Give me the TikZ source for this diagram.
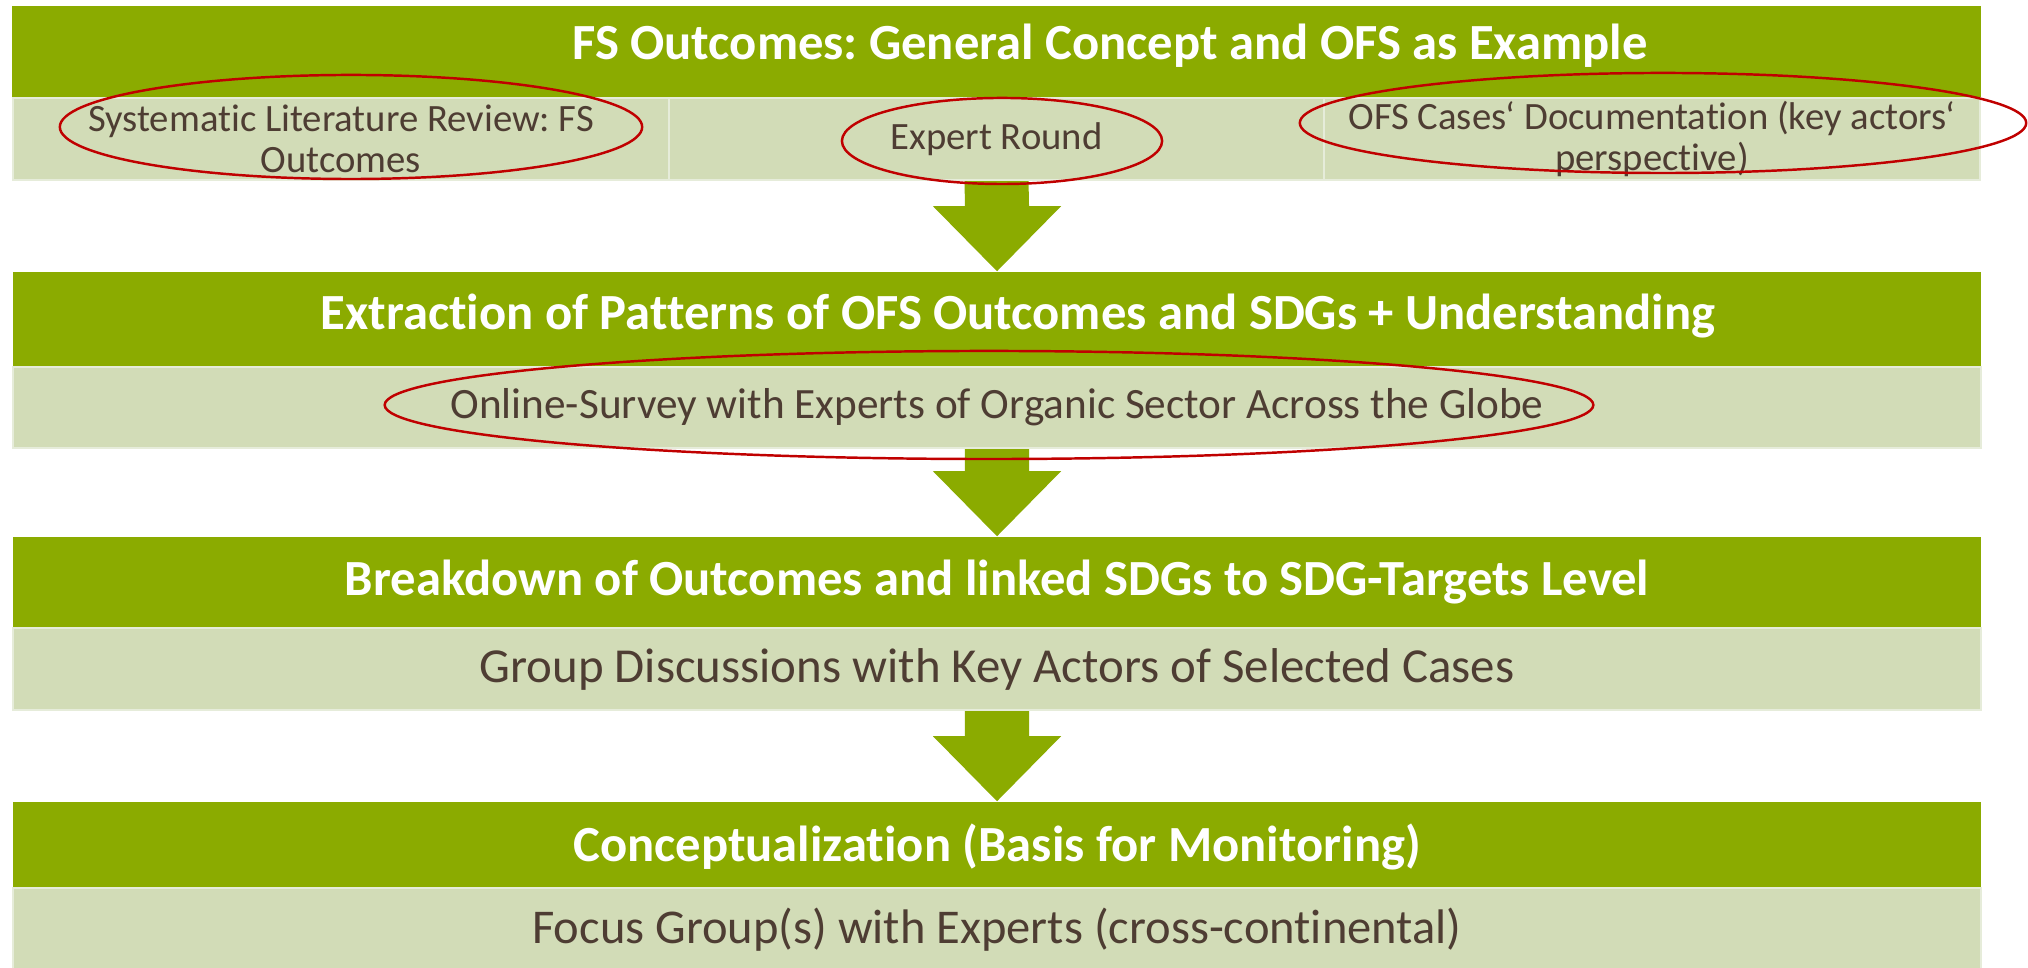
\documentclass[tikz,border=0pt]{standalone}
\usepackage{fontspec}
\setmainfont{Carlito}[Ligatures=NoCommon]
\usepackage{tikz}
\usetikzlibrary{shapes.geometric}
\frenchspacing
\definecolor{leaf}{HTML}{8BAB00}
\definecolor{sage}{HTML}{D2DCB7}
\definecolor{pale}{HTML}{E6ECDA}
\definecolor{bark}{HTML}{4E3D33}
\definecolor{ring}{HTML}{C00000}

\newcommand{\flowarrow}[2]{%
  \fill[leaf] ([xshift=-0.32cm]#1.south) -- ([xshift=-0.32cm,yshift=0.65cm]#2.north)
    -- ([xshift=-0.64cm,yshift=0.65cm]#2.north) -- (#2.north)
    -- ([xshift=0.64cm,yshift=0.65cm]#2.north) -- ([xshift=0.32cm,yshift=0.65cm]#2.north)
    -- ([xshift=0.32cm]#1.south) -- cycle;}

\begin{document}
\begin{tikzpicture}[x=0.01cm, y=0.01cm]

\tikzstyle{bar}=[rectangle, fill=leaf, draw=none, inner sep=0pt, minimum width=19.67cm]
\tikzstyle{band}=[rectangle, fill=sage, draw=pale, line width=0.6pt, inner sep=0pt, text=bark, align=center, minimum width=19.67cm]
\tikzstyle{cell}=[band, minimum width=6.55cm, minimum height=0.82cm, font=\fontsize{11pt}{11.6pt}\selectfont]
\tikzstyle{head}=[anchor=base, inner sep=0pt, text=white, font=\fontsize{14.4pt}{16pt}\selectfont\bfseries]
\tikzstyle{oval}=[ellipse, draw=ring, line width=0.7pt, inner sep=0pt]

\useasboundingbox (0,0) rectangle (2028,967);

\draw (996.5,915)  node[bar, minimum height=0.92cm] (t1) {}
      (997,647.5)  node[bar, minimum height=0.95cm] (t2) {}
      (997,384.5)  node[bar, minimum height=0.91cm] (t3) {}
      (997,121.5)  node[bar, minimum height=0.87cm] (t4) {};

\draw (341,828)    node[cell] (c1) {Systematic Literature Review: FS\\Outcomes}
      (996.5,828)  node[cell] (c2) {Expert Round}
      (1652,828)   node[cell] (c3) {OFS Cases‘ Documentation (key actors‘\\perspective)};

\draw (997,559.5)  node[band, minimum height=0.81cm, font=\fontsize{12.3pt}{14pt}\selectfont] (s2) {Online-Survey with Experts of Organic Sector Across the Globe}
      (997,298)    node[band, minimum height=0.82cm, font=\fontsize{13.9pt}{16pt}\selectfont] (s3) {Group Discussions with Key Actors of Selected Cases}
      (997,37)     node[band, minimum height=0.84cm, font=\fontsize{13.8pt}{15pt}\selectfont] (s4) {Focus Group(s) with Experts (cross-continental)};

\draw (1110,907)   node[head] (h1) {FS Outcomes: General Concept and OFS as Example}
      (1018,637)   node[head] (h2) {Extraction of Patterns of OFS Outcomes and SDGs + Understanding}
      (997,371)    node[head] (h3) {Breakdown of Outcomes and linked SDGs to SDG-Targets Level}
      (997,105)    node[head] (h4) {Conceptualization (Basis for Monitoring)};

\flowarrow{c2}{t2}
\flowarrow{s2}{t3}
\flowarrow{s3}{t4}

\draw (351,840)    node[oval, minimum width=5.82cm, minimum height=1.04cm] (o1) {}
      (1002,826)   node[oval, minimum width=3.20cm, minimum height=0.86cm] (o2) {}
      (1663,844)   node[oval, minimum width=7.26cm, minimum height=1.00cm] (o3) {}
      (989,562)    node[oval, minimum width=12.08cm, minimum height=1.08cm] (o4) {};

\end{tikzpicture}
\end{document}
